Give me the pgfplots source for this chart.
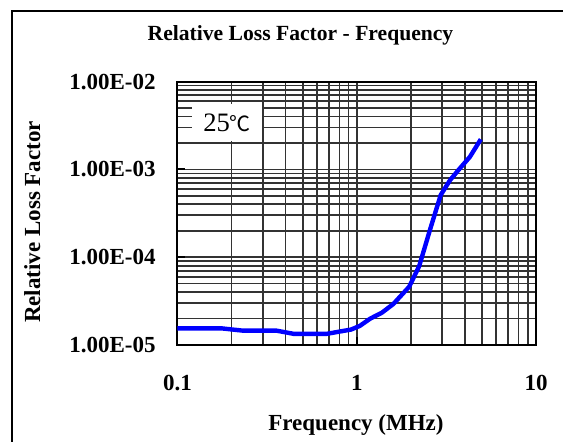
\documentclass[border=0pt]{standalone}
\usepackage{fontspec}
\setmainfont{Liberation Serif}
\newfontfamily\cjk{Noto Sans CJK SC}
\usepackage{pgfplots}
\pgfplotsset{compat=1.18}
\definecolor{gridcol}{HTML}{333333}
\begin{document}
\begin{tikzpicture}
\path[use as bounding box] (0,0) rectangle (281.5pt,-220.5pt);
\draw[line width=1pt] (5.85pt,-230pt) -- (5.85pt,-5.5pt) -- (290pt,-5.5pt);
\begin{axis}[
  at={(88.75pt,-172.5pt)}, anchor=south west,
  scale only axis, width=179.25pt, height=131.75pt,
  xmode=log, ymode=log,
  xmin=0.1, xmax=10, ymin=1e-5, ymax=1e-2,
  xtick={0.1,1,10}, xticklabels={0.1,1,10},
  ytick={1e-5,1e-4,1e-3,1e-2},
  yticklabels={1.00E-05,1.00E-04,1.00E-03,1.00E-02},
  minor xtick={0.2,0.3,0.4,0.5,0.6,0.7,0.8,0.9,2,3,4,5,6,7,8,9},
  minor ytick={2e-5,3e-5,4e-5,5e-5,6e-5,7e-5,8e-5,9e-5,
               2e-4,3e-4,4e-4,5e-4,6e-4,7e-4,8e-4,9e-4,
               2e-3,3e-3,4e-3,5e-3,6e-3,7e-3,8e-3,9e-3},
  grid=both,
  major grid style={gridcol, line width=0.85pt},
  minor grid style={gridcol, line width=0.85pt},
  axis line style={black, line width=1pt},
  tick style={black, line width=1pt},
  major tick length=4pt, minor tick length=0pt,
  tick align=inside, tick pos=left,
  ticklabel style={font=\fontsize{11.5}{14}\selectfont\bfseries},
  yticklabel style={inner sep=0pt, anchor=east, xshift=-10.75pt},
  xticklabel style={inner sep=0pt, anchor=north, yshift=-15pt},
]
\addplot[blue, line width=2.2pt, line join=round] coordinates {
  (0.1,1.55e-5) (0.175,1.55e-5) (0.23,1.46e-5) (0.355,1.46e-5)
  (0.445,1.34e-5) (0.68,1.34e-5) (0.93,1.5e-5) (1.04,1.65e-5)
  (1.19,2.0e-5) (1.38,2.33e-5) (1.6,2.93e-5) (1.96,4.6e-5)
  (2.23,7.9e-5) (2.56,2.04e-4) (2.94,5.1e-4) (3.31,7.5e-4)
  (3.69,9.8e-4) (4.28,1.39e-3) (4.92,2.2e-3)
};
\end{axis}
\begin{scope}[x=0.5pt,y=-0.5pt]
\fill[white] (191.7,104) rectangle (261.7,140.5);
\node[anchor=base west, inner sep=0pt, font=\fontsize{13.3}{15}\selectfont]
  at (203,131) {25{\cjk\fontsize{10.5}{12}\selectfont ℃}};
\node[anchor=base, inner sep=0pt, font=\fontsize{10.8}{13}\selectfont\bfseries]
  at (300.5,40.5) {Relative Loss Factor - Frequency};
\node[anchor=base, inner sep=0pt, font=\fontsize{11.5}{14}\selectfont\bfseries]
  at (356,430) {Frequency (MHz)};
\node[rotate=90, anchor=base, inner sep=0pt, font=\fontsize{11.5}{14}\selectfont\bfseries]
  at (40,222) {Relative Loss Factor};
\end{scope}
\end{tikzpicture}
\end{document}
